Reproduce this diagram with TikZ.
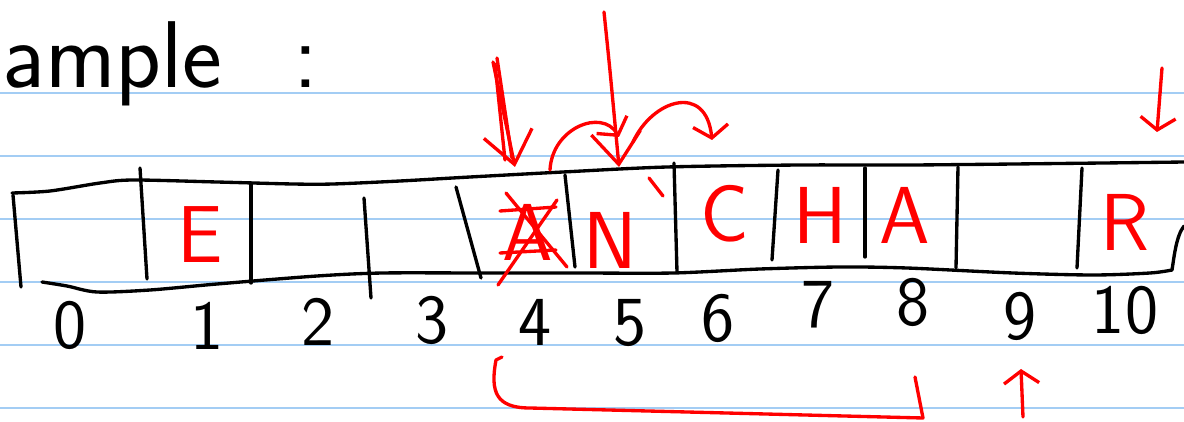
\documentclass[tikz,border=0pt]{standalone}
\usepackage{fontspec}
\usepackage{tikz}
\definecolor{inkred}{HTML}{FF0000}
\definecolor{rulecol}{HTML}{A3CDF4}
\usetikzlibrary{arrows.meta}

\begin{document}
\begin{tikzpicture}[x=0.02cm,y=-0.02cm,
    ink/.style={black,line width=1.9pt,line cap=round,line join=round},
    redink/.style={inkred,line width=1.9pt,line cap=round,line join=round},
    rule/.style={rulecol,line width=1.1pt},
    bigtip/.style={-{Straight Barb[length=18pt,width=28pt,line width=1.9pt]}},
    smalltip/.style={-{Straight Barb[length=7pt,width=20pt,line width=1.9pt]}},
    idxnum/.style={font=\sffamily\fontsize{40}{40}\selectfont,inner sep=0pt},
    cellchar/.style={inkred,font=\sffamily\fontsize{46}{46}\selectfont,inner sep=0pt}]
  \useasboundingbox (0,0) rectangle (1184,422);
  % ---------- ruled paper ------------------------------------------
  \foreach \y in {93,156,...,409}
    \draw[rule] (0,\y) -- (1184,\y);
  % ---------- heading ----------------------------------------------
  \node[anchor=base west,inner sep=0pt,font=\sffamily\fontsize{54}{54}\selectfont]
      (title) at (2,88) {ample\hspace{0.75em}:};
  % ---------- the array strip --------------------------------------
  \draw[ink] plot[smooth] coordinates {(12,193) (50,191) (100,183) (133,180)
      (217,182) (293,184) (333,184) (400,181) (470,177) (563,172) (667,167)
      (800,165) (913,165) (1103,163) (1184,162)};
  \draw[ink] plot[smooth] coordinates {(42,282) (67,286) (97,292) (150,290)
      (217,284) (317,276) (383,273) (480,273) (580,273) (673,273) (760,269)
      (840,267) (907,268) (1013,273) (1093,275) (1150,273) (1172,270)};
  \draw[ink] (1184,226) .. controls (1176,236) and (1174,258) .. (1172,270);
  % cell walls (hand drawn, slightly slanted)
  \foreach \xa/\ya/\xb/\yb in {13/195/21/287, 140/168/147/279, 251/183/251/283,
      364/198/371/298, 456/187/481/278, 565/175/575/267, 674/163/677/272,
      778/170/772/260, 865/168/865/257, 958/167/956/268, 1082/168/1077/268}
    \draw[ink] (\xa,\ya) -- (\xb,\yb);
  % ---------- contents (red) ---------------------------------------
  \foreach \i/\c/\x/\y in {1/E/200/235, 4/A/528/232, 5/N/610/240, 6/C/725/214,
      7/H/820/215, 8/A/905/215, 10/R/1125/222}
    \node[cellchar] (chr\i) at (\x,\y) {\c};
  \draw[redink] (506,193) -- (567,267);
  \draw[redink] (557,200) -- (498,285);
  \draw[redink] (500,211) -- (556,207);
  \draw[redink] (500,253) -- (556,250);
  \draw[redink] (649,178) -- (663,196);
  % ---------- indices ----------------------------------------------
  \foreach \i/\x/\y in {0/70/325, 1/207/326, 2/318/322, 3/432/320, 4/535/322,
      5/630/323, 6/718/318, 7/818/305, 8/913/302, 9/1020/316, 10/1125/310}
    \node[idxnum] (idx\i) at (\x,\y) {\i};
  % ---------- pointers and moves -----------------------------------
  \draw[redink,bigtip] (493,62) -- (515,167);
  \draw[redink] (497,58) -- (512,158);
  \draw[redink] (495,64) -- (505,160);
  \draw[redink,bigtip] (604,12) .. controls (610,70) .. (619,167);
  \draw[redink,smalltip] (550,170) .. controls (552,128) and (602,108) .. (619,137);
  \draw[redink,smalltip] (633,142) .. controls (652,100) and (706,82) .. (712,140);
  \draw[redink,smalltip] (1162,68) -- (1157,132);
  % ---------- scan range below -------------------------------------
  \draw[redink] (502,357) -- (496,360) .. controls (490,392) and (496,408) .. (530,408)
      -- (923,418) -- (915,377);
  \draw[redink,smalltip] (1023,417) -- (1021,369);
\end{tikzpicture}
\end{document}
